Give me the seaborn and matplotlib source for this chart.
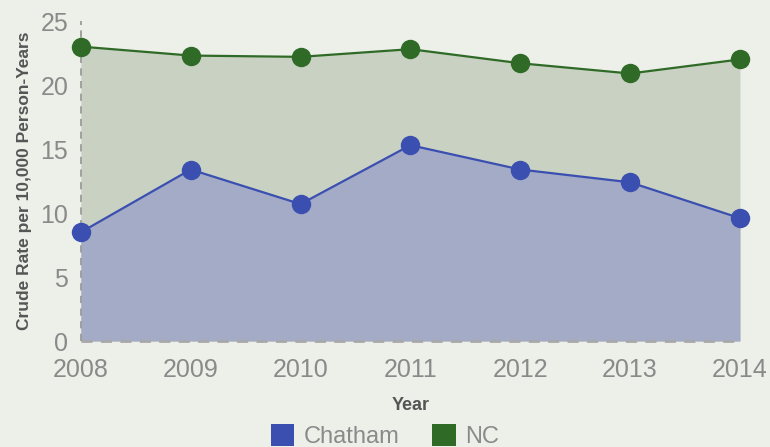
import matplotlib
matplotlib.use("Agg")
import matplotlib.pyplot as plt
from matplotlib.patches import Patch
import seaborn as sns
import pandas as pd

years = [2008, 2009, 2010, 2011, 2012, 2013, 2014]
chatham = [8.5, 13.4, 10.7, 15.3, 13.4, 12.4, 9.6]
nc = [23.0, 22.3, 22.2, 22.8, 21.7, 20.9, 22.0]
series_names = ["Chatham", "NC"]
line_colors = ["#3a4fb0", "#2f6a27"]
fill_colors = ["#a4abc6", "#c9d2c2"]
bg = "#edefe9"

df = pd.DataFrame({
    "Year": years * 2,
    "Rate": chatham + nc,
    "Series": ["Chatham"] * len(years) + ["NC"] * len(years),
})

sns.set_theme(style="white")
plt.rcParams["font.family"] = ["Liberation Sans", "DejaVu Sans"]

fig = plt.figure(figsize=(7.7, 4.47), dpi=100, facecolor=bg)
ax = fig.add_axes([0.105, 0.237, 0.856, 0.716])
ax.set_facecolor(bg)

# area fills, NC behind Chatham
ax.fill_between(years, 0, nc, color=fill_colors[1], zorder=1, linewidth=0)
ax.fill_between(years, 0, chatham, color=fill_colors[0], zorder=2, linewidth=0)

# dashed axis lines
vl = ax.axvline(2008, color="#9a9a9a", linestyle=(0, (4, 3)), linewidth=1.3, zorder=2.5)
hl = ax.axhline(0, color="#a8a8a8", linestyle=(0, (4, 3)), linewidth=2.0, zorder=2.5)
hl.set_clip_on(False)
vl.set_clip_on(False)

sns.lineplot(data=df, x="Year", y="Rate", hue="Series", palette=line_colors,
             marker="o", markersize=14, markeredgewidth=0, linewidth=1.6,
             legend=False, ax=ax, zorder=3)
for ln in ax.lines:
    ln.set_clip_on(False)

ax.set_xlim(2008, 2014)
ax.set_ylim(0, 25)
ax.set_xticks(years)
ax.set_yticks([0, 5, 10, 15, 20, 25])
for s in ax.spines.values():
    s.set_visible(False)

ax.tick_params(axis="both", length=0, labelsize=18, labelcolor="#8a8a8a")
ax.tick_params(axis="x", pad=12)
ax.tick_params(axis="y", pad=9)

ax.set_xlabel("Year", fontsize=13, fontweight="bold", color="#555555", labelpad=11)
ax.set_ylabel("Crude Rate per 10,000 Person-Years", fontsize=12.5,
              fontweight="bold", color="#555555", labelpad=6)

handles = [Patch(facecolor=c, edgecolor="none") for c in line_colors]
fig.legend(handles, series_names, loc="lower center", bbox_to_anchor=(0.5, -0.05),
           ncol=2, frameon=False, fontsize=17, labelcolor="#8a8a8a",
           handlelength=1.0, handleheight=1.0, handletextpad=0.4, columnspacing=1.4)

fig.savefig("out.png", dpi=100, facecolor=bg)
